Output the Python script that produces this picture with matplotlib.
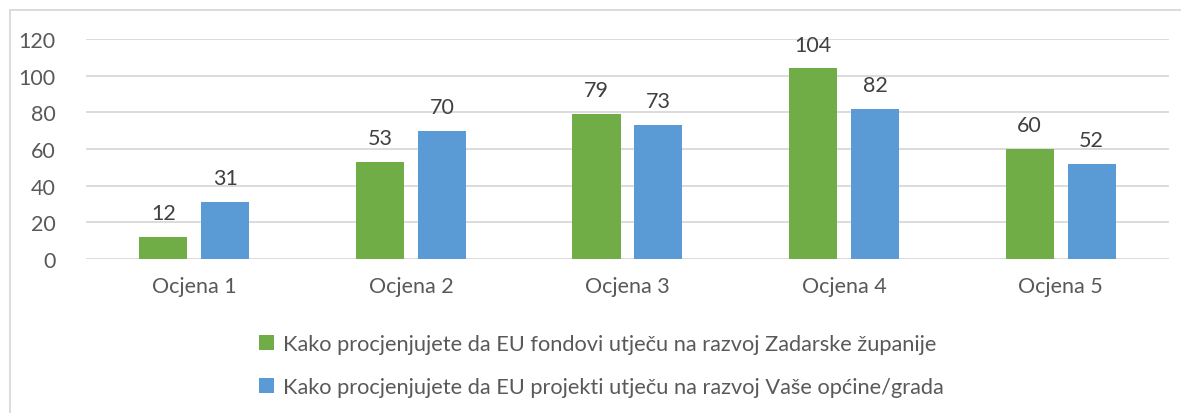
import matplotlib.pyplot as plt
import numpy as np
from matplotlib.patches import Rectangle

# data
categories = ['Ocjena 1', 'Ocjena 2', 'Ocjena 3', 'Ocjena 4', 'Ocjena 5']
fondovi = [12, 53, 79, 104, 60]
projekti = [31, 70, 73, 82, 52]
labels = ['Kako procjenjujete da EU fondovi utječu na razvoj Zadarske županije',
          'Kako procjenjujete da EU projekti utječu na razvoj Vaše općine/grada']

green = '#70AD47'
blue = '#5B9BD5'
txt = '#595959'

plt.rcParams['font.family'] = ['Lato', 'DejaVu Sans']

fig = plt.figure(figsize=(11.81, 4.14), dpi=100)
ax = fig.add_axes([0.0728, 0.372, 0.917, 0.531])

x = np.arange(len(categories))
w = 0.222
off = 0.143
b1 = ax.bar(x - off, fondovi, w, color=green, label=labels[0], zorder=3)
b2 = ax.bar(x + off, projekti, w, color=blue, label=labels[1], zorder=3)

for bars in (b1, b2):
    for r in bars:
        ax.annotate(str(int(r.get_height())), (r.get_x() + r.get_width() / 2, r.get_height()),
                    xytext=(0, 10), textcoords='offset points', ha='center', va='bottom',
                    fontsize=15.5, color='#404040')

ax.set_xlim(-0.5, len(categories) - 0.5)
ax.set_ylim(0, 120)
ax.set_yticks(range(0, 121, 20))
ax.set_xticks(x)
ax.set_xticklabels(categories)
ax.tick_params(axis='both', length=0, labelsize=15.5, labelcolor=txt)
ax.tick_params(axis='y', pad=22)
ax.tick_params(axis='x', pad=12)
ax.grid(axis='y', color='#D9D9D9', linewidth=1.3, zorder=0)
for s in ax.spines.values():
    s.set_visible(False)

leg = fig.legend(loc='upper left', bbox_to_anchor=(0.212, 0.212), frameon=False,
                 ncol=1, fontsize=15.7, handlelength=0.7, handleheight=0.7,
                 handletextpad=0.4, labelspacing=1.05, borderaxespad=0)
for t in leg.get_texts():
    t.set_color(txt)

# chart border
fig.patches.append(Rectangle((10 / 1181, -0.1), 1.2, 1 - 11 / 414 + 0.1, transform=fig.transFigure,
                             fill=False, edgecolor='#D9D9D9', linewidth=1.3))

fig.savefig('out.png', dpi=100)
